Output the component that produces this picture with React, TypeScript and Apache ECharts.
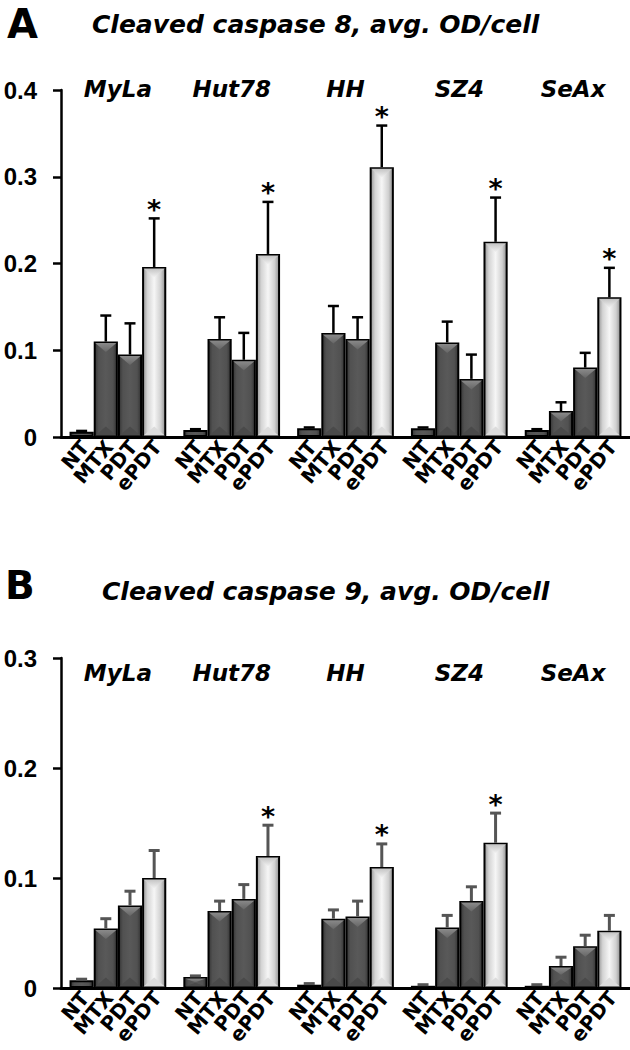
import React, { useEffect, useRef } from "react";
import * as echarts from "echarts";

const cellLines = ["MyLa", "Hut78", "HH", "SZ4", "SeAx"];
const treatments = ["NT", "MTX", "PDT", "ePDT"];
const yTicksA = [0, 0.4, 0.1];
const yTicksB = [0, 0.3, 0.1];

// Panel A: cleaved caspase 8 (mean per cell line)
const c8NT = [0.006, 0.008, 0.01, 0.01, 0.008];
const c8MTX = [0.11, 0.113, 0.12, 0.109, 0.03];
const c8PDT = [0.095, 0.089, 0.113, 0.067, 0.08];
const c8ePDT = [0.196, 0.211, 0.311, 0.225, 0.161];
const c8NTErr = [0.001, 0.001, 0.001, 0.001, 0.001];
const c8MTXErr = [0.03, 0.025, 0.031, 0.024, 0.01];
const c8PDTErr = [0.036, 0.031, 0.025, 0.028, 0.017];
const c8ePDTErr = [0.056, 0.06, 0.048, 0.051, 0.034];
const c8Sig = [true, true, true, true, true];

// Panel B: cleaved caspase 9
const c9NT = [0.007, 0.01, 0.003, 0.002, 0.002];
const c9MTX = [0.054, 0.07, 0.063, 0.055, 0.02];
const c9PDT = [0.075, 0.081, 0.065, 0.079, 0.038];
const c9ePDT = [0.1, 0.12, 0.11, 0.132, 0.052];
const c9NTErr = [0.001, 0.001, 0.001, 0.001, 0.001];
const c9MTXErr = [0.009, 0.009, 0.008, 0.011, 0.008];
const c9PDTErr = [0.013, 0.013, 0.014, 0.013, 0.01];
const c9ePDTErr = [0.025, 0.028, 0.021, 0.027, 0.014];
const c9Sig = [false, true, true, true, false];

const titleA = "Cleaved caspase 8, avg. OD/cell";
const titleB = "Cleaved caspase 9, avg. OD/cell";

const BAR_FILL = 0.85;
const DV = "'DejaVu Sans', Verdana, sans-serif";
const AR = "'Liberation Sans', Arial, sans-serif";

const darkGrad = {
  type: "linear", x: 0, y: 0, x2: 1, y2: 0,
  colorStops: [
    { offset: 0, color: "#353535" },
    { offset: 0.18, color: "#515151" },
    { offset: 0.5, color: "#595959" },
    { offset: 0.82, color: "#515151" },
    { offset: 1, color: "#333333" },
  ],
};
const lightGrad = {
  type: "linear", x: 0, y: 0, x2: 1, y2: 0,
  colorStops: [
    { offset: 0, color: "#959595" },
    { offset: 0.2, color: "#d4d4d4" },
    { offset: 0.5, color: "#f6f6f6" },
    { offset: 0.8, color: "#d0d0d0" },
    { offset: 1, color: "#909090" },
  ],
};

function barSeries(name: string, data: number[], k: number, xi: number, yi: number) {
  return {
    type: "bar",
    name,
    xAxisIndex: xi,
    yAxisIndex: yi,
    data,
    barGap: "0%",
    barCategoryGap: "15%",
    itemStyle: {
      color: k === 3 ? lightGrad : darkGrad,
      borderColor: "#000",
      borderWidth: 2,
    },
    label: {
      show: true,
      position: "bottom",
      distance: 10,
      offset: [5, 0],
      rotate: 50,
      align: "right",
      verticalAlign: "middle",
      formatter: "{a}",
      fontFamily: DV,
      fontWeight: "bold",
      fontSize: 20,
      color: "#000",
    },
    emphasis: { disabled: true },
    z: 2,
  };
}

function bevelSeries(means: number[][], xi: number, yi: number) {
  const data: number[][] = [];
  means.forEach((arr, k) => arr.forEach((m, i) => data.push([i, k, m])));
  return {
    type: "custom",
    xAxisIndex: xi,
    yAxisIndex: yi,
    data,
    encode: { x: 0, y: 2 },
    silent: true,
    z: 3,
    renderItem: (params: any, api: any) => {
      const i = api.value(0);
      const k = api.value(1);
      const m = api.value(2);
      const band = api.size([1, 0])[0];
      const bw = (band * BAR_FILL) / 4;
      const top = api.coord([i, m]);
      const base = api.coord([i, 0]);
      const cx = top[0] + (k - 1.5) * bw;
      const h = base[1] - top[1];
      if (h < 10) return { type: "group", children: [] };
      const d = Math.min(9, h / 3);
      const x0 = cx - bw / 2 + 1.5;
      const x1 = cx + bw / 2 - 1.5;
      const light = k === 3;
      return {
        type: "group",
        children: [
          {
            type: "polygon",
            shape: { points: [[x0, top[1] + 1.5], [x1, top[1] + 1.5], [cx, top[1] + 1.5 + d]] },
            style: {
              fill: {
                type: "linear", x: 0, y: 0, x2: 0, y2: 1,
                colorStops: light
                  ? [{ offset: 0, color: "#c4c4c4" }, { offset: 1, color: "#f2f2f2" }]
                  : [{ offset: 0, color: "#8a8a8a" }, { offset: 1, color: "#666666" }],
              },
            },
          },
          {
            type: "polygon",
            shape: { points: [[x0, base[1] - 1.5], [x1, base[1] - 1.5], [cx, base[1] - 1.5 - d]] },
            style: {
              fill: light ? "#dcdcdc" : "#4a4a4a",
            },
          },
        ],
      };
    },
  };
}

function errSeries(means: number[][], errs: number[][], sig: boolean[], color: string, lw: number, xi: number, yi: number) {
  const data: number[][] = [];
  means.forEach((arr, k) =>
    arr.forEach((m, i) => data.push([i, k, m, errs[k][i], k === 3 && sig[i] ? 1 : 0]))
  );
  return {
    type: "custom",
    xAxisIndex: xi,
    yAxisIndex: yi,
    data,
    encode: { x: 0, y: 2 },
    silent: true,
    z: 4,
    renderItem: (params: any, api: any) => {
      const i = api.value(0);
      const k = api.value(1);
      const m = api.value(2);
      const e = api.value(3);
      const s = api.value(4);
      const band = api.size([1, 0])[0];
      const bw = (band * BAR_FILL) / 4;
      const p0 = api.coord([i, m]);
      const p1 = api.coord([i, m + e]);
      const cx = p0[0] + (k - 1.5) * bw;
      const children: any[] = [
        { type: "line", shape: { x1: cx, y1: p0[1], x2: cx, y2: p1[1] }, style: { stroke: color, lineWidth: lw } },
        { type: "line", shape: { x1: cx - 5.5, y1: p1[1], x2: cx + 5.5, y2: p1[1] }, style: { stroke: color, lineWidth: lw } },
      ];
      if (s) {
        children.push({
          type: "text",
          x: cx,
          y: p1[1] - 9,
          style: {
            text: "*",
            fontFamily: DV,
            fontWeight: "bold",
            fontSize: 27,
            fill: "#000",
            align: "center",
            verticalAlign: "middle",
          },
        });
      }
      return { type: "group", children };
    },
  };
}

function yAxis(gi: number, ticks: number[]) {
  return {
    type: "value",
    gridIndex: gi,
    min: ticks[0],
    max: ticks[1],
    interval: ticks[2],
    axisLine: { show: true, lineStyle: { color: "#000", width: 2.5 } },
    axisTick: { show: true, length: 8, lineStyle: { color: "#000", width: 2.5 } },
    splitLine: { show: false },
    axisLabel: {
      margin: 24,
      fontFamily: AR,
      fontWeight: "bold",
      fontSize: 24,
      color: "#000",
    },
  };
}

function xAxes(gi: number, labelMargin: number) {
  return [
    {
      type: "category",
      gridIndex: gi,
      data: cellLines,
      position: "bottom",
      axisLine: { show: true, lineStyle: { color: "#000", width: 3 } },
      axisTick: { show: false },
      axisLabel: { show: false },
    },
    {
      type: "category",
      gridIndex: gi,
      data: cellLines,
      position: "top",
      axisLine: { show: false },
      axisTick: { show: false },
      axisLabel: {
        show: true,
        margin: labelMargin,
        verticalAlign: "middle",
        fontFamily: DV,
        fontStyle: "italic",
        fontWeight: "bold",
        fontSize: 23,
        color: "#000",
      },
    },
  ];
}

export default function App() {
  const ref = useRef<HTMLDivElement>(null);
  useEffect(() => {
    if (!ref.current) return;
    const chart = echarts.init(ref.current, undefined, { renderer: "svg" });
    const aMeans = [c8NT, c8MTX, c8PDT, c8ePDT];
    const aErrs = [c8NTErr, c8MTXErr, c8PDTErr, c8ePDTErr];
    const bMeans = [c9NT, c9MTX, c9PDT, c9ePDT];
    const bErrs = [c9NTErr, c9MTXErr, c9PDTErr, c9ePDTErr];
    const option: any = {
      animation: false,
      backgroundColor: "#ffffff",
      grid: [
        { left: 61, right: 0, top: 90, height: 347 },
        { left: 61, right: 0, top: 658, height: 330 },
      ],
      xAxis: [...xAxes(0, 1), ...xAxes(1, -15)],
      yAxis: [yAxis(0, yTicksA), yAxis(1, yTicksB)],
      series: [
        ...treatments.map((t, k) => barSeries(t, aMeans[k], k, 0, 0)),
        bevelSeries(aMeans, 0, 0),
        errSeries(aMeans, aErrs, c8Sig, "#000000", 2.5, 0, 0),
        ...treatments.map((t, k) => barSeries(t, bMeans[k], k, 2, 1)),
        bevelSeries(bMeans, 2, 1),
        errSeries(bMeans, bErrs, c9Sig, "#555555", 3, 2, 1),
      ],
      graphic: [
        { type: "text", x: 7, y: 24, style: { text: "A", fontFamily: DV, fontWeight: "bold", fontSize: 40, fill: "#000", align: "left", verticalAlign: "middle" } },
        { type: "text", x: 92, y: 24, style: { text: titleA, fontFamily: DV, fontWeight: "bold", fontStyle: "italic", fontSize: 25, fill: "#000", align: "left", verticalAlign: "middle" } },
        { type: "text", x: 5, y: 585, style: { text: "B", fontFamily: DV, fontWeight: "bold", fontSize: 39, fill: "#000", align: "left", verticalAlign: "middle" } },
        { type: "text", x: 102, y: 591, style: { text: titleB, fontFamily: DV, fontWeight: "bold", fontStyle: "italic", fontSize: 25, fill: "#000", align: "left", verticalAlign: "middle" } },
      ],
    };
    chart.setOption(option);
    return () => chart.dispose();
  }, []);
  return (
    <div
      ref={ref}
      style={{ position: "absolute", left: 0, top: 0, width: 630, height: 1050, background: "#fff" }}
    />
  );
}
